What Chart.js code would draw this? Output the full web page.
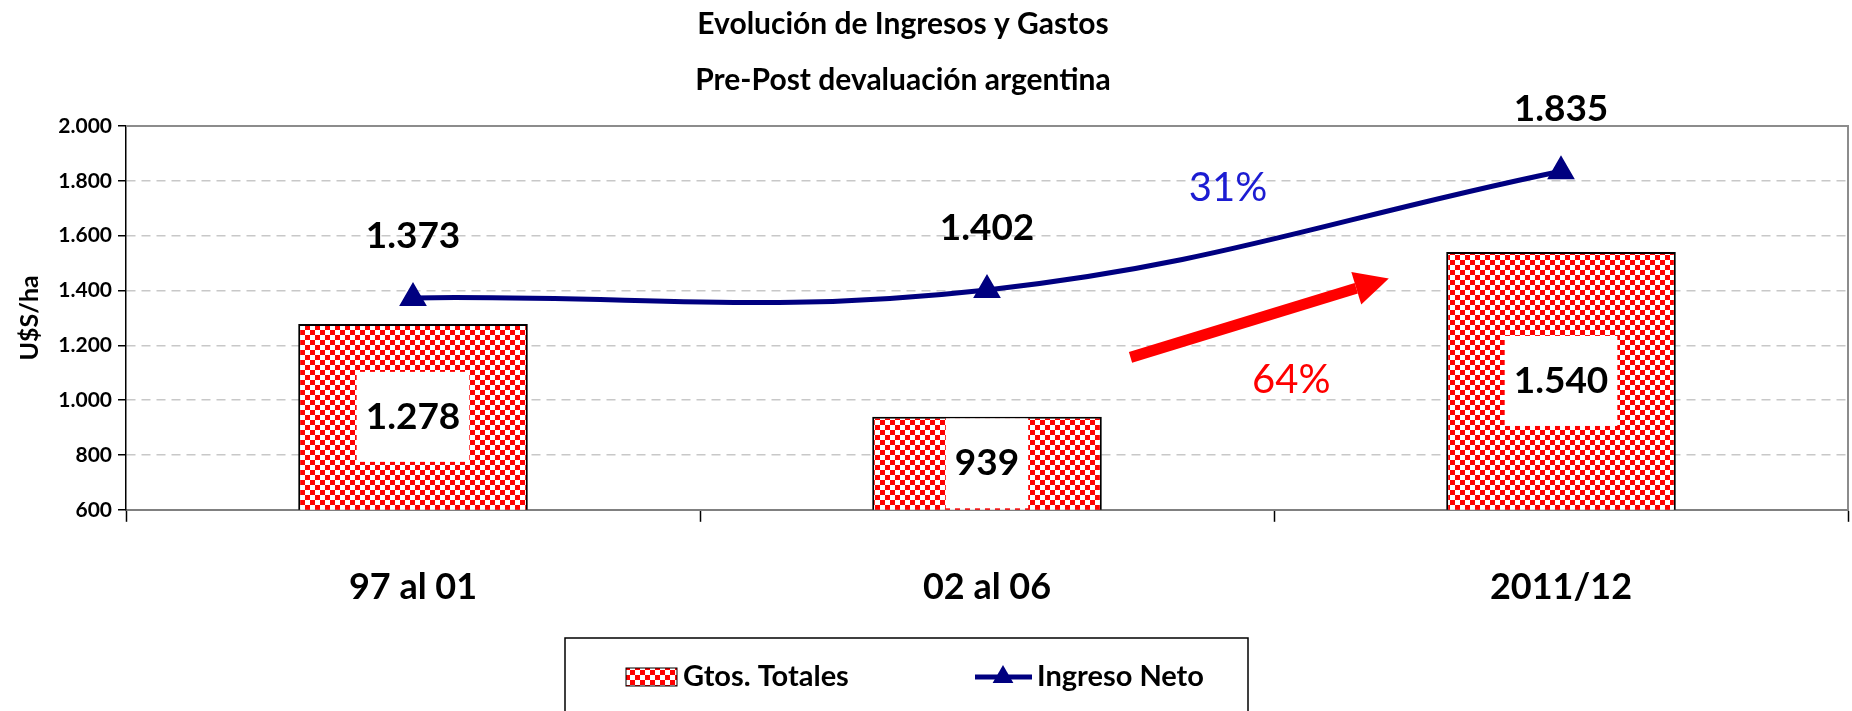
<!DOCTYPE html>
<html lang="es">
<head>
  <meta charset="UTF-8" />
  <title>Evolución de Ingresos y Gastos</title>
  <script src="https://cdn.jsdelivr.net/npm/chart.js"></script>
  <style>
    html, body { margin: 0; padding: 0; background: #fff; }
  </style>
</head>
<body>
  <canvas id="grafico" width="1852" height="711"></canvas>

  <script>
    // Datos
    const categorias = ['97 al 01', '02 al 06', '2011/12'];
    const gastosTotales = [1278, 939, 1540];
    const ingresoNeto = [1373, 1402, 1835];
    const ticksY = [600, 800, 1000, 1200, 1400, 1600, 1800, 2000];
    const titulo = ['Evolución de Ingresos y Gastos', 'Pre-Post devaluación argentina'];

    // Anotaciones, en coordenadas de datos (índice de categoría, valor)
    const flechaInicio = [1.25, 1156];
    const flechaFin = [1.70, 1444];
    const textosPct = ['31%', '64%'];
    const posPct = [[1.42, 1772], [1.53, 1074]];
    const coloresPct = ['#1c1cd2', '#ff0000'];

    const FUENTE = "Lato, 'DejaVu Sans Condensed', sans-serif";
    const AZUL = '#000080';

    // Formato con punto de miles (1.373)
    function miles(v) {
      return String(v).replace(/\B(?=(\d{3})+(?!\d))/g, '.');
    }

    // Relleno de cuadritos rojo/blanco
    function patronCuadros(ctx) {
      const c = document.createElement('canvas');
      c.width = 10; c.height = 10;
      const g = c.getContext('2d');
      g.fillStyle = '#fff';
      g.fillRect(0, 0, 10, 10);
      g.fillStyle = '#ff0000';
      g.fillRect(0, 0, 5, 5);
      g.fillRect(5, 5, 5, 5);
      return ctx.createPattern(c, 'repeat');
    }

    function triangulo(ctx, x, y, r) {
      ctx.beginPath();
      for (let i = 0; i < 3; i++) {
        const a = i * 2 * Math.PI / 3;
        const px = x + Math.sin(a) * r, py = y - Math.cos(a) * r;
        if (i === 0) ctx.moveTo(px, py); else ctx.lineTo(px, py);
      }
      ctx.closePath();
      ctx.fill();
    }

    const ctx = document.getElementById('grafico').getContext('2d');
    const patron = patronCuadros(ctx);

    // Títulos, etiquetas, flecha y leyenda
    const decoracion = {
      id: 'decoracion',
      afterDatasetsDraw(chart) {
        const c = chart.ctx;
        const area = chart.chartArea;
        const sx = chart.scales.x, sy = chart.scales.y;
        c.save();

        // marco gris superior y derecho
        c.strokeStyle = '#8c8c8c';
        c.lineWidth = 2;
        c.beginPath();
        c.moveTo(area.left, area.top);
        c.lineTo(area.right, area.top);
        c.lineTo(area.right, area.bottom);
        c.stroke();

        // título
        c.fillStyle = '#000';
        c.textAlign = 'center';
        c.textBaseline = 'middle';
        c.font = 'bold 30px ' + FUENTE;
        c.fillText(titulo[0], 903, 24);
        c.fillText(titulo[1], 903, 80);

        // etiquetas de la línea
        c.font = 'bold 37px ' + FUENTE;
        chart.getDatasetMeta(0).data.forEach((p, i) => {
          c.fillText(miles(ingresoNeto[i]), p.x, p.y - 62);
        });

        // etiquetas de las barras con caja blanca
        chart.getDatasetMeta(1).data.forEach((b, i) => {
          const base = Math.min(b.base, area.bottom);
          const medio = (b.y + base) / 2;
          const txt = miles(gastosTotales[i]);
          const w = c.measureText(txt).width + 18;
          let y0 = Math.max(medio - 45, b.y + 1);
          let y1 = Math.min(medio + 45, base - 1);
          c.fillStyle = '#fff';
          c.fillRect(b.x - w / 2, y0, w, y1 - y0);
          c.fillStyle = '#000';
          c.fillText(txt, b.x, medio);
        });

        // flecha roja
        const x0 = sx.getPixelForValue(flechaInicio[0]), y0 = sy.getPixelForValue(flechaInicio[1]);
        const x1 = sx.getPixelForValue(flechaFin[0]), y1 = sy.getPixelForValue(flechaFin[1]);
        const ang = Math.atan2(y1 - y0, x1 - x0);
        const largo = 34, ancho = 17;
        const bx = x1 - Math.cos(ang) * largo, by = y1 - Math.sin(ang) * largo;
        c.strokeStyle = '#ff0000';
        c.fillStyle = '#ff0000';
        c.lineWidth = 11;
        c.beginPath();
        c.moveTo(x0, y0);
        c.lineTo(bx, by);
        c.stroke();
        c.beginPath();
        c.moveTo(x1, y1);
        c.lineTo(bx + Math.sin(ang) * ancho, by - Math.cos(ang) * ancho);
        c.lineTo(bx - Math.sin(ang) * ancho, by + Math.cos(ang) * ancho);
        c.closePath();
        c.fill();

        // porcentajes
        c.font = '40px ' + FUENTE;
        textosPct.forEach((t, i) => {
          c.fillStyle = coloresPct[i];
          c.fillText(t, sx.getPixelForValue(posPct[i][0]), sy.getPixelForValue(posPct[i][1]));
        });

        // leyenda
        c.strokeStyle = '#000';
        c.lineWidth = 1.5;
        c.strokeRect(565, 638, 683, 90);
        c.fillStyle = patron;
        c.fillRect(626, 668, 51, 18);
        c.lineWidth = 1;
        c.strokeRect(626, 668, 51, 18);
        c.strokeStyle = AZUL;
        c.lineWidth = 5;
        c.beginPath();
        c.moveTo(975, 677);
        c.lineTo(1032, 677);
        c.stroke();
        c.fillStyle = AZUL;
        triangulo(c, 1003, 677, 12);
        c.fillStyle = '#000';
        c.textAlign = 'left';
        c.font = 'bold 29px ' + FUENTE;
        c.fillText('Gtos. Totales', 683, 677);
        c.fillText('Ingreso Neto', 1037, 677);

        c.restore();
      }
    };

    new Chart(ctx, {
      data: {
        labels: categorias,
        datasets: [
          {
            type: 'line',
            label: 'Ingreso Neto',
            data: ingresoNeto,
            borderColor: AZUL,
            backgroundColor: AZUL,
            borderWidth: 5,
            tension: 0.4,
            pointStyle: 'triangle',
            pointRadius: 11,
            pointBackgroundColor: AZUL,
            pointBorderColor: AZUL,
            order: 0
          },
          {
            type: 'bar',
            label: 'Gtos. Totales',
            data: gastosTotales,
            backgroundColor: patron,
            borderColor: '#000',
            borderWidth: 2,
            barPercentage: 0.4,
            categoryPercentage: 1,
            order: 1
          }
        ]
      },
      options: {
        responsive: false,
        animation: false,
        layout: { autoPadding: false, padding: { top: 126, right: 4, bottom: 58, left: 0 } },
        plugins: {
          legend: { display: false },
          title: { display: false },
          tooltip: { enabled: false }
        },
        scales: {
          x: {
            offset: true,
            grid: { offset: true, drawOnChartArea: false, drawTicks: true, tickLength: 12, tickColor: '#000', tickWidth: 1.5 },
            border: { color: '#808080', width: 2 },
            ticks: { color: '#000', padding: 44, font: { family: FUENTE, size: 36, weight: 'bold' } }
          },
          y: {
            min: 600,
            max: 2000,
            afterBuildTicks: s => { s.ticks = ticksY.map(v => ({ value: v })); },
            afterFit: s => { s.width = 126; },
            grid: {
              color: c => (c.tick && c.tick.value === 2000) ? 'rgba(0,0,0,0)' : '#c8c8c8',
              lineWidth: 1.5,
              tickColor: '#000',
              tickLength: 8,
              tickWidth: 1.5
            },
            border: { color: '#000', width: 1.5, dash: [9, 6] },
            ticks: {
              color: '#000',
              padding: 6,
              font: { family: FUENTE, size: 21, weight: 'bold' },
              callback: v => miles(v)
            },
            title: {
              display: true,
              text: 'U$S/ha',
              color: '#000',
              font: { family: FUENTE, size: 25, weight: 'bold' },
              padding: { top: 15, bottom: 0 }
            }
          }
        }
      },
      plugins: [decoracion]
    });
  </script>
</body>
</html>
